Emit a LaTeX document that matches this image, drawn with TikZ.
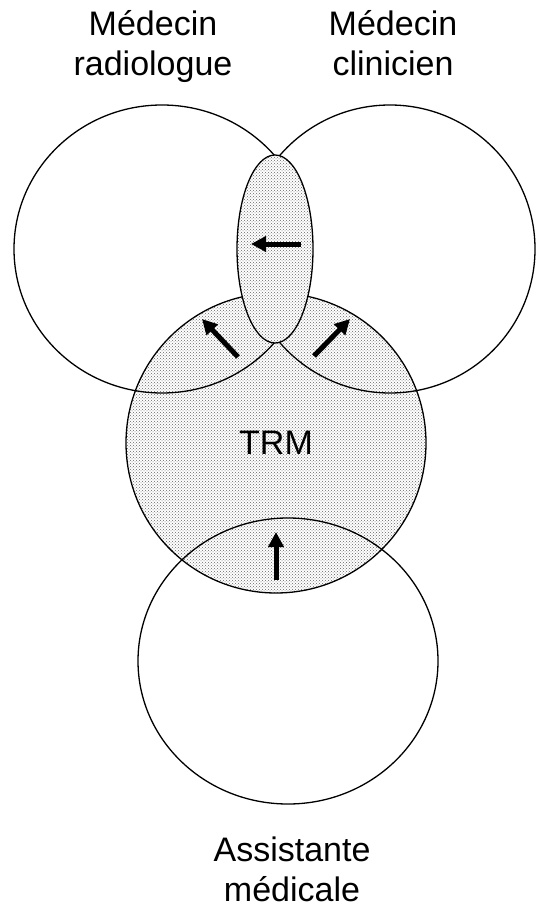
\documentclass[tikz,border=0pt]{standalone}
\usepackage{fontspec}
\setmainfont{Liberation Sans}
\usepackage{tikz}
\usepackage{xcolor}
\usetikzlibrary{arrows.meta,shapes.geometric,patterns}
\definecolor{ink}     {HTML}{000000}
\definecolor{weave}   {HTML}{666666}
\tikzset{
  zonering/.style  ={ellipse, draw=ink, line width=1.3pt, inner sep=0pt},
  zonehatch/.style ={zonering, preaction={fill=white},
                     pattern=crosshatch dots, pattern color=weave},
  zonelabel/.style ={align=center, anchor=base,
                     font=\fontsize{34}{40}\selectfont},
  pusharr/.style   ={-{Triangle[length=15pt,width=15pt]}, line width=5pt, color=ink},
}

\begin{document}
\begin{tikzpicture}[x=1pt,y=-1pt]
    \useasboundingbox (0,0) rectangle (535,909);

    % ----- TRM (hatched, under the outlines) -----
    \node[zonehatch,minimum width=300pt,minimum height=300pt] (trm) at (276,443) {};

    % ----- the three other professions -----
    \node[zonering,minimum width=296pt,minimum height=288pt] (radio)  at (162,249) {};
    \node[zonering,minimum width=290pt,minimum height=288pt] (clin)   at (390,249) {};
    \node[zonering,minimum width=300pt,minimum height=286pt] (assist) at (288,661) {};

    % ----- shared zone between the two doctors -----
    \node[zonehatch,minimum width=76pt,minimum height=188pt] (shared) at (275,249) {};

    \node[font=\fontsize{34}{40}\selectfont] (trmtxt) at (276,443) {TRM};

    % ----- labels (anchored on the last line) -----
    \node[zonelabel] (radiotxt)  at (153,76)  {Médecin\\radiologue};
    \node[zonelabel] (clintxt)   at (393,76)  {Médecin\\clinicien};
    \node[zonelabel] (assisttxt) at (292,901) {Assistante\\médicale};

    % ----- arrows -----
    \coordinate (sharedR) at (301,244);
    \coordinate (sharedL) at (251,244);
    \coordinate (trmNW)   at (238,357);
    \coordinate (radioIn) at (202,319);
    \coordinate (trmNE)   at (314,356);
    \coordinate (clinIn)  at (350,319);
    \coordinate (assistIn) at (276,580);
    \coordinate (trmS)    at (276,532);

    \draw[pusharr] (sharedR)  -- (sharedL);
    \draw[pusharr] (trmNW)    -- (radioIn);
    \draw[pusharr] (trmNE)    -- (clinIn);
    \draw[pusharr] (assistIn) -- (trmS);
  \end{tikzpicture}
\end{document}
